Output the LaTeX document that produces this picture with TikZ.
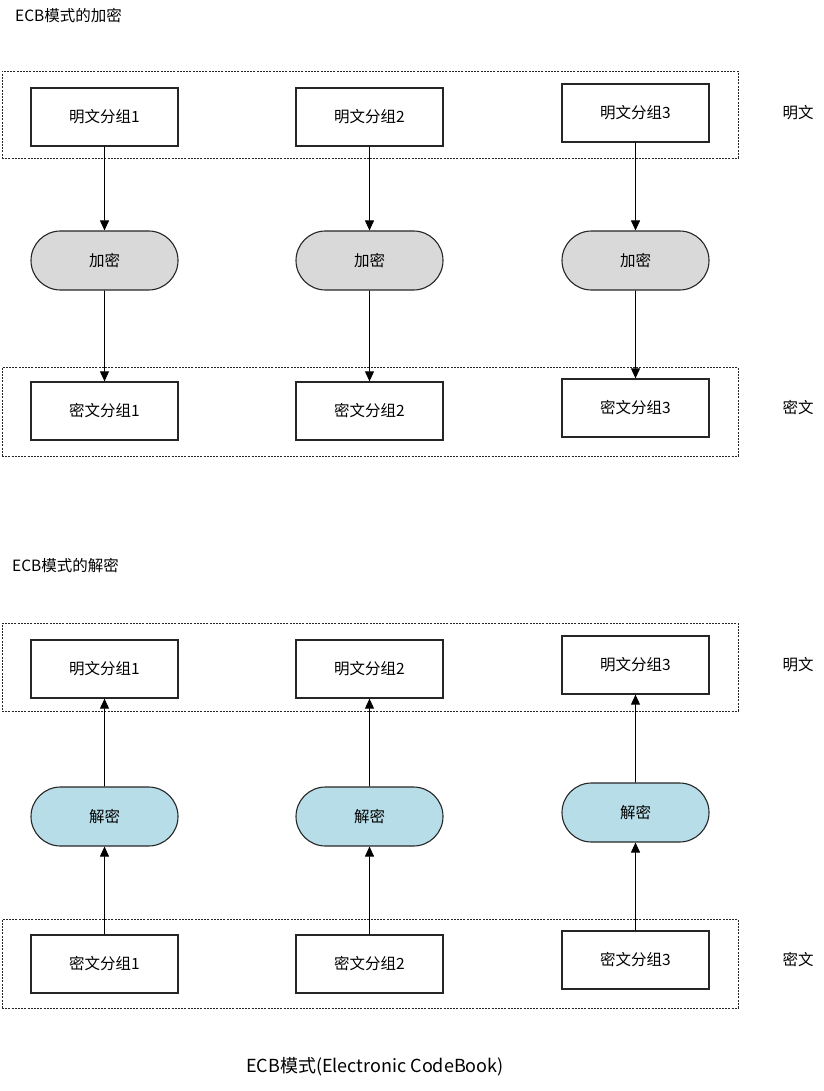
\documentclass[tikz,border=0pt]{standalone}
\usepackage{fontspec}
\setmainfont{Noto Sans CJK SC}
\usetikzlibrary{arrows.meta,shapes.misc}
\definecolor{encgray}{HTML}{D9D9D9}
\definecolor{decblue}{HTML}{B7DDE8}
\definecolor{edge}{HTML}{262626}
\begin{document}
\begin{tikzpicture}[x=1pt,y=-1pt,
  blk/.style={draw=edge,line width=1.3pt,minimum width=147pt,minimum height=58pt,inner sep=0pt,font=\fontsize{15.5}{17}\selectfont,fill=white},
  pill/.style={draw=edge,line width=1.1pt,rounded rectangle,minimum width=147pt,minimum height=59pt,inner sep=0pt,font=\fontsize{15.5}{17}\selectfont},
  enc/.style={pill,fill=encgray},
  dec/.style={pill,fill=decblue},
  grp/.style={draw=edge,line width=0.9pt,dash pattern=on 2pt off 1.2pt,minimum width=736pt,inner sep=0pt},
  lbl/.style={font=\fontsize{15.5}{17}\selectfont,inner sep=0pt},
  conn/.style={draw=black,line width=0.9pt,-{Triangle[length=10pt,width=9pt]}}
]
\useasboundingbox (0,0) rectangle (823,1091);
% ---------- encryption ----------
\node[lbl,anchor=west] (t1) at (15,16) {ECB模式的加密};
\node[grp,minimum height=87pt] (g1) at (370,114.5) {};
\node[grp,minimum height=89pt] (g2) at (370,411.5) {};
\node[blk] (p1) at (104.5,117) {明文分组1};
\node[blk] (p2) at (369.5,117) {明文分组2};
\node[blk] (p3) at (635.5,113) {明文分组3};
\node[lbl] (pl) at (798,113) {明文};
\node[enc] (e1) at (104.5,260.5) {加密};
\node[enc] (e2) at (369.5,260.5) {加密};
\node[enc] (e3) at (635.5,260.5) {加密};
\node[blk] (c1) at (104.5,411) {密文分组1};
\node[blk] (c2) at (369.5,411) {密文分组2};
\node[blk] (c3) at (635.5,408) {密文分组3};
\node[lbl] (cl) at (798,408) {密文};
\draw[conn] (p1) -- (e1);
\draw[conn] (p2) -- (e2);
\draw[conn] (p3) -- (e3);
\draw[conn] (e1) -- (c1);
\draw[conn] (e2) -- (c2);
\draw[conn] (e3) -- (c3);
% ---------- decryption ----------
\node[lbl,anchor=west] (t2) at (12,566) {ECB模式的解密};
\node[grp,minimum height=88pt] (g3) at (370,667) {};
\node[grp,minimum height=89pt] (g4) at (370,963.5) {};
\node[blk] (q1) at (104.5,669) {明文分组1};
\node[blk] (q2) at (369.5,669) {明文分组2};
\node[blk] (q3) at (635.5,665) {明文分组3};
\node[lbl] (ql) at (798,665) {明文};
\node[dec] (d1) at (104.5,816.5) {解密};
\node[dec] (d2) at (369.5,816.5) {解密};
\node[dec] (d3) at (635.5,812.5) {解密};
\node[blk] (k1) at (104.5,964) {密文分组1};
\node[blk] (k2) at (369.5,964) {密文分组2};
\node[blk] (k3) at (635.5,960) {密文分组3};
\node[lbl] (kl) at (798,960) {密文};
\draw[conn] (k1) -- (d1);
\draw[conn] (k2) -- (d2);
\draw[conn] (k3) -- (d3);
\draw[conn] (d1) -- (q1);
\draw[conn] (d2) -- (q2);
\draw[conn] (d3) -- (q3);
% ---------- caption ----------
\node[font=\fontsize{18}{21}\selectfont,inner sep=0pt] (cap) at (375,1067) {ECB模式(Electronic CodeBook)};
\end{tikzpicture}
\end{document}
